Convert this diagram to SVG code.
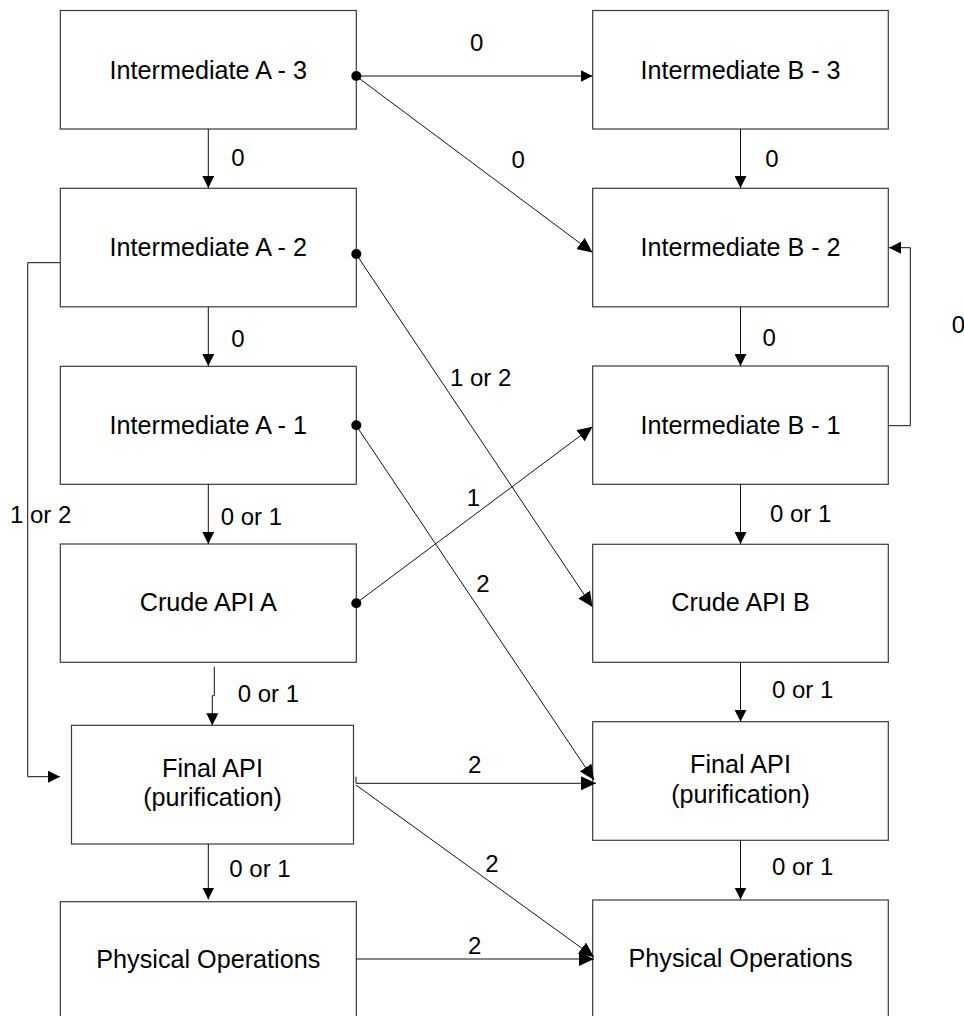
<svg xmlns="http://www.w3.org/2000/svg" width="964" height="1016" viewBox="0 0 964 1016">
<style>
.box{fill:#fff;stroke:#3a3a3a;stroke-width:1.2}
.nt{font-family:"Liberation Sans",Arial,sans-serif;font-size:25.2px;fill:#000;text-anchor:middle}
.lb{font-family:"Liberation Sans",Arial,sans-serif;font-size:24px;fill:#000}
.c{text-anchor:middle}
.ln{fill:none;stroke:#111;stroke-width:1}
.dot{fill:#000}
</style>
<defs>
<marker id="ar" markerUnits="userSpaceOnUse" viewBox="0 0 12 12" markerWidth="12" markerHeight="12" refX="12" refY="6" orient="auto">
<path d="M0,0 L12,6 L0,12 z" fill="#000"/>
</marker>
<marker id="arL" markerUnits="userSpaceOnUse" viewBox="0 0 15 14" markerWidth="15" markerHeight="14" refX="15" refY="7" orient="auto">
<path d="M0,0 L15,7 L0,14 z" fill="#000"/>
</marker>
</defs>
<rect width="964" height="1016" fill="#fff"/>

<g id="node-a3"><rect class="box" x="60.3" y="10.5" width="296" height="118.5"/><text class="nt" x="208.3" y="78.8">Intermediate A - 3</text></g>
<g id="node-a2"><rect class="box" x="60.3" y="188.3" width="296" height="118.5"/><text class="nt" x="208.3" y="255.5">Intermediate A - 2</text></g>
<g id="node-a1"><rect class="box" x="60.3" y="366.3" width="296" height="118"/><text class="nt" x="208.3" y="433.5">Intermediate A - 1</text></g>
<g id="node-crude-a"><rect class="box" x="60.3" y="544" width="296" height="118.3"/><text class="nt" x="208.3" y="611">Crude API A</text></g>
<g id="node-final-a"><rect class="box" x="71.5" y="725.3" width="282" height="118.7"/><text class="nt" x="212.5" y="776.7">Final API</text><text class="nt" x="212.5" y="805.5">(purification)</text></g>
<g id="node-phys-a"><rect class="box" x="60.3" y="901.7" width="296" height="118"/><text class="nt" x="208.3" y="968.3">Physical Operations</text></g>

<g id="node-b3"><rect class="box" x="592.7" y="10.5" width="295.6" height="118.5"/><text class="nt" x="740.5" y="78.8">Intermediate B - 3</text></g>
<g id="node-b2"><rect class="box" x="592.7" y="188.3" width="295.6" height="118.5"/><text class="nt" x="740.5" y="255.5">Intermediate B - 2</text></g>
<g id="node-b1"><rect class="box" x="592.7" y="366" width="295.6" height="118.3"/><text class="nt" x="740.5" y="433.5">Intermediate B - 1</text></g>
<g id="node-crude-b"><rect class="box" x="592.7" y="544.3" width="295.6" height="118"/><text class="nt" x="740.5" y="611">Crude API B</text></g>
<g id="node-final-b"><rect class="box" x="592.7" y="721.7" width="295.6" height="118.6"/><text class="nt" x="740.5" y="773.3">Final API</text><text class="nt" x="740.5" y="802.5">(purification)</text></g>
<g id="node-phys-b"><rect class="box" x="592.7" y="900" width="295.6" height="118"/><text class="nt" x="740.5" y="966.7">Physical Operations</text></g>

<g id="connectors">
<path class="ln" d="M208.3,129 V188" marker-end="url(#ar)"/>
<path class="ln" d="M208.3,307 V366" marker-end="url(#ar)"/>
<path class="ln" d="M208.3,484 V544" marker-end="url(#ar)"/>
<path class="ln" d="M214.3,666.7 V695.7 H212.3 V725.3" marker-end="url(#ar)"/>
<path class="ln" d="M208.3,844 V899.5" marker-end="url(#ar)"/>
<path class="ln" d="M356,76 H592.5" marker-end="url(#ar)" stroke="#444"/>
<path class="ln" d="M356,76 L592.5,252.5" marker-end="url(#arL)"/>
<path class="ln" d="M740.5,129 V188" marker-end="url(#ar)"/>
<path class="ln" d="M740.5,307 V366" marker-end="url(#ar)"/>
<path class="ln" d="M888,425.7 H910.3 V247.7 H889" marker-end="url(#ar)"/>
<path class="ln" d="M740.5,484 V544" marker-end="url(#ar)"/>
<path class="ln" d="M740.5,662 V721.7" marker-end="url(#ar)"/>
<path class="ln" d="M740.5,840 V899.5" marker-end="url(#ar)"/>
<path class="ln" d="M356,254 L592.5,607" marker-end="url(#arL)"/>
<path class="ln" d="M356,425.3 L594,780" marker-end="url(#arL)"/>
<path class="ln" d="M356,603.3 L592.5,426.7" marker-end="url(#arL)"/>
<path class="ln" d="M60,262.7 H27.7 V776.7 H60" marker-end="url(#ar)" stroke="#444"/>
<path class="ln" d="M356,776.7 V783.3 H596" marker-end="url(#arL)"/>
<path class="ln" d="M356,785 L594,957" marker-end="url(#arL)"/>
<path class="ln" d="M356,959 H594" marker-end="url(#arL)" stroke="#444"/>
<circle class="dot" cx="356.3" cy="76" r="5"/>
<circle class="dot" cx="356.3" cy="254" r="5"/>
<circle class="dot" cx="356.3" cy="425.3" r="5"/>
<circle class="dot" cx="356.3" cy="603.3" r="5"/>
<text class="lb c" x="238" y="166">0</text>
<text class="lb c" x="476.7" y="51">0</text>
<text class="lb c" x="518.3" y="168.3">0</text>
<text class="lb c" x="772" y="166.7">0</text>
<text class="lb c" x="238" y="346.7">0</text>
<text class="lb c" x="769.3" y="345.7">0</text>
<text class="lb" x="951.7" y="333.3">0</text>
<text class="lb" x="450" y="386">1 or 2</text>
<text class="lb" x="10" y="523.3">1 or 2</text>
<text class="lb" x="220.7" y="525">0 or 1</text>
<text class="lb" x="770" y="521.7">0 or 1</text>
<text class="lb c" x="473.5" y="505.5">1</text>
<text class="lb c" x="483" y="592.3">2</text>
<text class="lb" x="237.7" y="702.3">0 or 1</text>
<text class="lb" x="772" y="698.3">0 or 1</text>
<text class="lb c" x="474.8" y="773.3">2</text>
<text class="lb" x="229.3" y="876.7">0 or 1</text>
<text class="lb" x="772" y="875">0 or 1</text>
<text class="lb c" x="492" y="871.7">2</text>
<text class="lb c" x="474.8" y="954.3">2</text>
</g>
</svg>
